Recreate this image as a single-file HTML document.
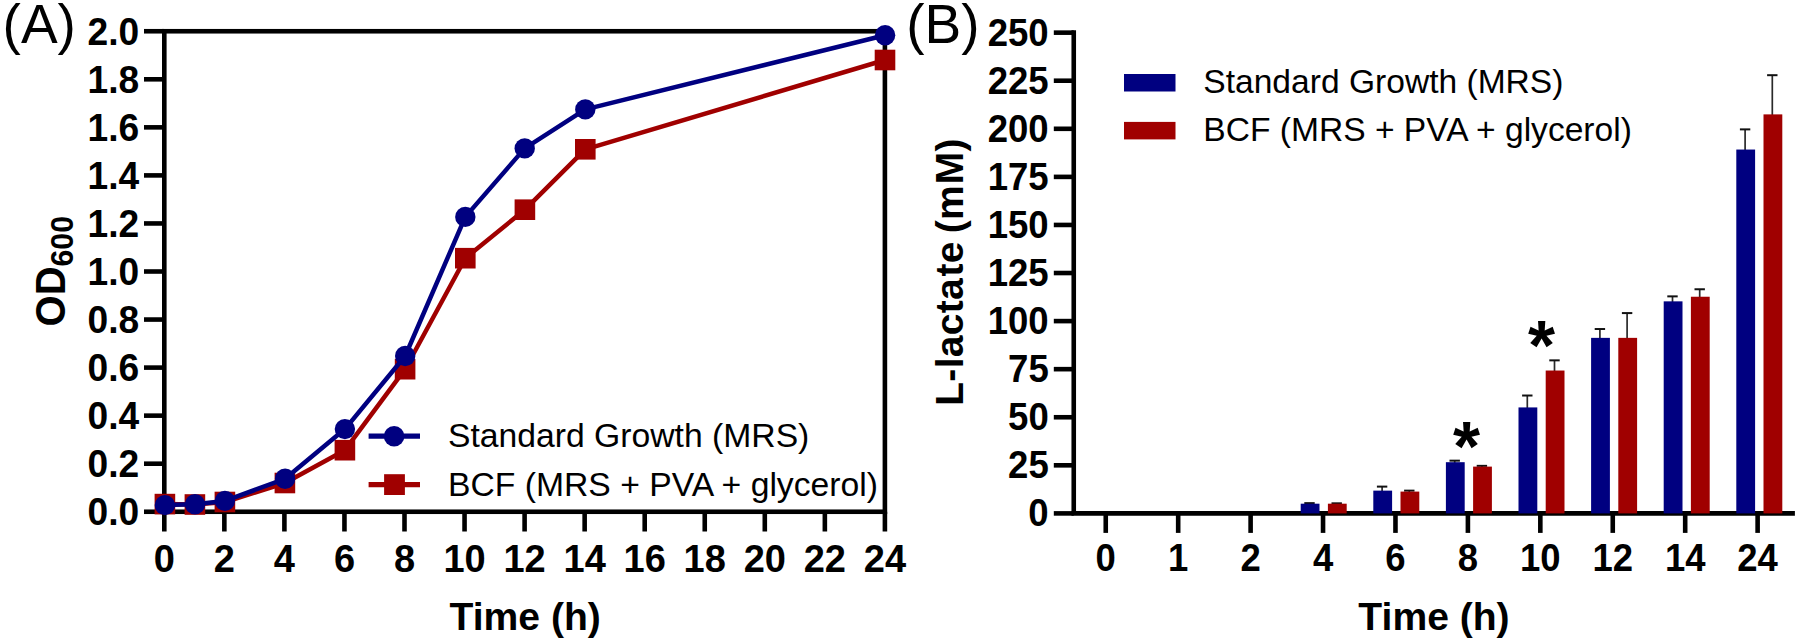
<!DOCTYPE html>
<html lang="en"><head><meta charset="utf-8"><title>Figure</title>
<style>html,body{margin:0;padding:0;background:#fff}svg{display:block}</style></head>
<body>
<svg width="1800" height="644" viewBox="0 0 1800 644">
<rect width="1800" height="644" fill="#fff"/>
<g font-family="'Liberation Sans', sans-serif" fill="#000">
<g stroke="#000" stroke-width="4.6" fill="none" stroke-linecap="butt">
<rect x="164.3" y="31.25" width="720.5999999999999" height="480.5"/>
<line x1="144" y1="511.75" x2="164.3" y2="511.75"/>
<line x1="144" y1="463.70" x2="164.3" y2="463.70"/>
<line x1="144" y1="415.65" x2="164.3" y2="415.65"/>
<line x1="144" y1="367.60" x2="164.3" y2="367.60"/>
<line x1="144" y1="319.55" x2="164.3" y2="319.55"/>
<line x1="144" y1="271.50" x2="164.3" y2="271.50"/>
<line x1="144" y1="223.45" x2="164.3" y2="223.45"/>
<line x1="144" y1="175.40" x2="164.3" y2="175.40"/>
<line x1="144" y1="127.35" x2="164.3" y2="127.35"/>
<line x1="144" y1="79.30" x2="164.3" y2="79.30"/>
<line x1="144" y1="31.25" x2="164.3" y2="31.25"/>
<line x1="164.30" y1="511.75" x2="164.30" y2="531.5"/>
<line x1="224.35" y1="511.75" x2="224.35" y2="531.5"/>
<line x1="284.40" y1="511.75" x2="284.40" y2="531.5"/>
<line x1="344.45" y1="511.75" x2="344.45" y2="531.5"/>
<line x1="404.50" y1="511.75" x2="404.50" y2="531.5"/>
<line x1="464.55" y1="511.75" x2="464.55" y2="531.5"/>
<line x1="524.60" y1="511.75" x2="524.60" y2="531.5"/>
<line x1="584.65" y1="511.75" x2="584.65" y2="531.5"/>
<line x1="644.70" y1="511.75" x2="644.70" y2="531.5"/>
<line x1="704.75" y1="511.75" x2="704.75" y2="531.5"/>
<line x1="764.80" y1="511.75" x2="764.80" y2="531.5"/>
<line x1="824.85" y1="511.75" x2="824.85" y2="531.5"/>
<line x1="884.90" y1="511.75" x2="884.90" y2="531.5"/>
</g>
<g font-weight="bold" font-size="38" text-anchor="end">
<text transform="translate(139.2,525.05) scale(0.978,1)">0.0</text>
<text transform="translate(139.2,477.00) scale(0.978,1)">0.2</text>
<text transform="translate(139.2,428.95) scale(0.978,1)">0.4</text>
<text transform="translate(139.2,380.90) scale(0.978,1)">0.6</text>
<text transform="translate(139.2,332.85) scale(0.978,1)">0.8</text>
<text transform="translate(139.2,284.80) scale(0.978,1)">1.0</text>
<text transform="translate(139.2,236.75) scale(0.978,1)">1.2</text>
<text transform="translate(139.2,188.70) scale(0.978,1)">1.4</text>
<text transform="translate(139.2,140.65) scale(0.978,1)">1.6</text>
<text transform="translate(139.2,92.60) scale(0.978,1)">1.8</text>
<text transform="translate(139.2,44.55) scale(0.978,1)">2.0</text>
</g>
<g font-weight="bold" font-size="38" text-anchor="middle">
<text x="164.30" y="572">0</text>
<text x="224.35" y="572">2</text>
<text x="284.40" y="572">4</text>
<text x="344.45" y="572">6</text>
<text x="404.50" y="572">8</text>
<text x="464.55" y="572">10</text>
<text x="524.60" y="572">12</text>
<text x="584.65" y="572">14</text>
<text x="644.70" y="572">16</text>
<text x="704.75" y="572">18</text>
<text x="764.80" y="572">20</text>
<text x="824.85" y="572">22</text>
<text x="884.90" y="572">24</text>
<text x="525.2" y="629.7" font-size="39.1">Time (h)</text>
</g>
<text transform="translate(65.3,271.2) rotate(-90) scale(1,1.05)" font-weight="bold" font-size="40" text-anchor="middle"><tspan>OD</tspan><tspan font-size="30.3" dy="7.7">600</tspan></text>
<text x="2.6" y="42.7" font-size="55">(A)</text>
<polyline points="164.9,504.1 194.9,504.5 224.9,502.0 284.9,483.0 344.9,450.2 405.1,369.2 465.3,258.2 524.9,209.7 585.3,149.3 885.0,60.0" fill="none" stroke="#A00000" stroke-width="4.5" stroke-linejoin="round"/>
<rect x="154.6" y="493.8" width="20.6" height="20.6" fill="#A00000"/>
<rect x="184.6" y="494.2" width="20.6" height="20.6" fill="#A00000"/>
<rect x="214.6" y="491.7" width="20.6" height="20.6" fill="#A00000"/>
<rect x="274.6" y="472.7" width="20.6" height="20.6" fill="#A00000"/>
<rect x="334.6" y="439.9" width="20.6" height="20.6" fill="#A00000"/>
<rect x="394.8" y="358.9" width="20.6" height="20.6" fill="#A00000"/>
<rect x="455.0" y="247.9" width="20.6" height="20.6" fill="#A00000"/>
<rect x="514.6" y="199.4" width="20.6" height="20.6" fill="#A00000"/>
<rect x="575.0" y="139.0" width="20.6" height="20.6" fill="#A00000"/>
<rect x="874.7" y="49.7" width="20.6" height="20.6" fill="#A00000"/>
<polyline points="164.9,505.1 195.0,504.3 224.9,500.9 285.1,478.8 344.9,429.1 405.2,356.0 465.3,216.9 524.7,148.4 585.3,109.4 885.1,35.2" fill="none" stroke="#000080" stroke-width="4.5" stroke-linejoin="round"/>
<circle cx="164.9" cy="505.1" r="10.2" fill="#000080"/>
<circle cx="195.0" cy="504.3" r="10.2" fill="#000080"/>
<circle cx="224.9" cy="500.9" r="10.2" fill="#000080"/>
<circle cx="285.1" cy="478.8" r="10.2" fill="#000080"/>
<circle cx="344.9" cy="429.1" r="10.2" fill="#000080"/>
<circle cx="405.2" cy="356.0" r="10.2" fill="#000080"/>
<circle cx="465.3" cy="216.9" r="10.2" fill="#000080"/>
<circle cx="524.7" cy="148.4" r="10.2" fill="#000080"/>
<circle cx="585.3" cy="109.4" r="10.2" fill="#000080"/>
<circle cx="885.1" cy="35.2" r="10.2" fill="#000080"/>
<line x1="368.6" y1="436.2" x2="420" y2="436.2" stroke="#000080" stroke-width="5.3"/><circle cx="394.1" cy="436.2" r="10.3" fill="#000080"/>
<line x1="368.6" y1="484.6" x2="420" y2="484.6" stroke="#A00000" stroke-width="5.3"/><rect x="384.1" y="474.2" width="20.8" height="20.8" fill="#A00000"/>
<text x="448" y="447" font-size="33.7">Standard Growth (MRS)</text>
<text x="448" y="496" font-size="33.7">BCF (MRS + PVA + glycerol)</text>
<g stroke="#000" stroke-width="4.6" fill="none">
<line x1="1073.75" y1="30.349999999999998" x2="1073.75" y2="513.4"/>
<line x1="1071.45" y1="513.4" x2="1794.9" y2="513.4"/>
<line x1="1053.8" y1="513.40" x2="1073.75" y2="513.40"/>
<line x1="1053.8" y1="465.32" x2="1073.75" y2="465.32"/>
<line x1="1053.8" y1="417.25" x2="1073.75" y2="417.25"/>
<line x1="1053.8" y1="369.17" x2="1073.75" y2="369.17"/>
<line x1="1053.8" y1="321.10" x2="1073.75" y2="321.10"/>
<line x1="1053.8" y1="273.02" x2="1073.75" y2="273.02"/>
<line x1="1053.8" y1="224.95" x2="1073.75" y2="224.95"/>
<line x1="1053.8" y1="176.88" x2="1073.75" y2="176.88"/>
<line x1="1053.8" y1="128.80" x2="1073.75" y2="128.80"/>
<line x1="1053.8" y1="80.72" x2="1073.75" y2="80.72"/>
<line x1="1053.8" y1="32.65" x2="1073.75" y2="32.65"/>
<line x1="1105.75" y1="513.4" x2="1105.75" y2="532.9"/>
<line x1="1178.18" y1="513.4" x2="1178.18" y2="532.9"/>
<line x1="1250.61" y1="513.4" x2="1250.61" y2="532.9"/>
<line x1="1323.04" y1="513.4" x2="1323.04" y2="532.9"/>
<line x1="1395.47" y1="513.4" x2="1395.47" y2="532.9"/>
<line x1="1467.90" y1="513.4" x2="1467.90" y2="532.9"/>
<line x1="1540.33" y1="513.4" x2="1540.33" y2="532.9"/>
<line x1="1612.76" y1="513.4" x2="1612.76" y2="532.9"/>
<line x1="1685.19" y1="513.4" x2="1685.19" y2="532.9"/>
<line x1="1757.62" y1="513.4" x2="1757.62" y2="532.9"/>
</g>
<g font-weight="bold" font-size="38" text-anchor="end">
<text transform="translate(1048.7,526.40) scale(0.962,1)">0</text>
<text transform="translate(1048.7,478.32) scale(0.962,1)">25</text>
<text transform="translate(1048.7,430.25) scale(0.962,1)">50</text>
<text transform="translate(1048.7,382.17) scale(0.962,1)">75</text>
<text transform="translate(1048.7,334.10) scale(0.962,1)">100</text>
<text transform="translate(1048.7,286.02) scale(0.962,1)">125</text>
<text transform="translate(1048.7,237.95) scale(0.962,1)">150</text>
<text transform="translate(1048.7,189.88) scale(0.962,1)">175</text>
<text transform="translate(1048.7,141.80) scale(0.962,1)">200</text>
<text transform="translate(1048.7,93.72) scale(0.962,1)">225</text>
<text transform="translate(1048.7,45.65) scale(0.962,1)">250</text>
</g>
<g font-weight="bold" font-size="38" text-anchor="middle">
<text transform="translate(1105.75,571.1) scale(0.96,1)">0</text>
<text transform="translate(1178.18,571.1) scale(0.96,1)">1</text>
<text transform="translate(1250.61,571.1) scale(0.96,1)">2</text>
<text transform="translate(1323.04,571.1) scale(0.96,1)">4</text>
<text transform="translate(1395.47,571.1) scale(0.96,1)">6</text>
<text transform="translate(1467.90,571.1) scale(0.96,1)">8</text>
<text transform="translate(1540.33,571.1) scale(0.96,1)">10</text>
<text transform="translate(1612.76,571.1) scale(0.96,1)">12</text>
<text transform="translate(1685.19,571.1) scale(0.96,1)">14</text>
<text transform="translate(1757.62,571.1) scale(0.96,1)">24</text>
<text x="1434" y="629.9" font-size="39.1">Time (h)</text>
</g>
<text transform="translate(963.3,272) rotate(-90)" font-weight="bold" font-size="39" text-anchor="middle" letter-spacing="0.3">L-lacta<tspan dx="1.5">te </tspan><tspan dx="-3.3">(m</tspan><tspan dx="0.8">M)</tspan></text>
<text x="906.3" y="43" font-size="55">(B)</text>
<path d="M1309.50 504.69V503.13" stroke="#2a2a2a" stroke-width="1.7" fill="none"/><path d="M1304.30 503.13H1314.70" stroke="#111" stroke-width="2" fill="none"/>
<rect x="1300.70" y="503.69" width="18.8" height="9.71" fill="#000080"/>
<path d="M1336.70 504.69V503.32" stroke="#2a2a2a" stroke-width="1.7" fill="none"/><path d="M1331.50 503.32H1341.90" stroke="#111" stroke-width="2" fill="none"/>
<rect x="1327.90" y="503.69" width="18.8" height="9.71" fill="#A00000"/>
<path d="M1382.10 491.63V486.61" stroke="#2a2a2a" stroke-width="1.7" fill="none"/><path d="M1376.90 486.61H1387.30" stroke="#111" stroke-width="2" fill="none"/>
<rect x="1373.30" y="490.63" width="18.8" height="22.77" fill="#000080"/>
<path d="M1409.30 492.59V490.64" stroke="#2a2a2a" stroke-width="1.7" fill="none"/><path d="M1404.10 490.64H1414.50" stroke="#111" stroke-width="2" fill="none"/>
<rect x="1400.50" y="491.59" width="18.8" height="21.81" fill="#A00000"/>
<path d="M1454.70 463.19V460.66" stroke="#2a2a2a" stroke-width="1.7" fill="none"/><path d="M1449.50 460.66H1459.90" stroke="#111" stroke-width="2" fill="none"/>
<rect x="1445.90" y="462.19" width="18.8" height="51.21" fill="#000080"/>
<path d="M1481.90 467.61V465.85" stroke="#2a2a2a" stroke-width="1.7" fill="none"/><path d="M1476.70 465.85H1487.10" stroke="#111" stroke-width="2" fill="none"/>
<rect x="1473.10" y="466.61" width="18.8" height="46.79" fill="#A00000"/>
<path d="M1527.30 408.42V395.52" stroke="#2a2a2a" stroke-width="1.7" fill="none"/><path d="M1522.10 395.52H1532.50" stroke="#111" stroke-width="2" fill="none"/>
<rect x="1518.50" y="407.42" width="18.8" height="105.98" fill="#000080"/>
<path d="M1554.50 371.53V360.36" stroke="#2a2a2a" stroke-width="1.7" fill="none"/><path d="M1549.30 360.36H1559.70" stroke="#111" stroke-width="2" fill="none"/>
<rect x="1545.70" y="370.53" width="18.8" height="142.87" fill="#A00000"/>
<path d="M1599.90 338.86V329.03" stroke="#2a2a2a" stroke-width="1.7" fill="none"/><path d="M1594.70 329.03H1605.10" stroke="#111" stroke-width="2" fill="none"/>
<rect x="1591.10" y="337.86" width="18.8" height="175.54" fill="#000080"/>
<path d="M1627.10 338.86V313.08" stroke="#2a2a2a" stroke-width="1.7" fill="none"/><path d="M1621.90 313.08H1632.30" stroke="#111" stroke-width="2" fill="none"/>
<rect x="1618.30" y="337.86" width="18.8" height="175.54" fill="#A00000"/>
<path d="M1672.50 302.35V296.37" stroke="#2a2a2a" stroke-width="1.7" fill="none"/><path d="M1667.30 296.37H1677.70" stroke="#111" stroke-width="2" fill="none"/>
<rect x="1663.70" y="301.35" width="18.8" height="212.05" fill="#000080"/>
<path d="M1699.70 297.74V289.26" stroke="#2a2a2a" stroke-width="1.7" fill="none"/><path d="M1694.50 289.26H1704.90" stroke="#111" stroke-width="2" fill="none"/>
<rect x="1690.90" y="296.74" width="18.8" height="216.66" fill="#A00000"/>
<path d="M1745.10 150.54V129.38" stroke="#2a2a2a" stroke-width="1.7" fill="none"/><path d="M1739.90 129.38H1750.30" stroke="#111" stroke-width="2" fill="none"/>
<rect x="1736.30" y="149.54" width="18.8" height="363.86" fill="#000080"/>
<path d="M1772.30 115.38V75.19" stroke="#2a2a2a" stroke-width="1.7" fill="none"/><path d="M1767.10 75.19H1777.50" stroke="#111" stroke-width="2" fill="none"/>
<rect x="1763.50" y="114.38" width="18.8" height="399.02" fill="#A00000"/>
<text x="1466.4" y="470.6" font-size="69.5" font-weight="bold" text-anchor="middle">*</text>
<text x="1541.6" y="370.1" font-size="69.5" font-weight="bold" text-anchor="middle">*</text>
<rect x="1124" y="74" width="51.5" height="17.5" fill="#000080"/>
<rect x="1124" y="121.9" width="51.5" height="17.5" fill="#A00000"/>
<text x="1203.3" y="93.2" font-size="33.6">Standard Growth (MRS)</text>
<text x="1203.3" y="140.7" font-size="33.6">BCF (MRS + PVA + glycerol)</text>
</g></svg>
</body></html>
